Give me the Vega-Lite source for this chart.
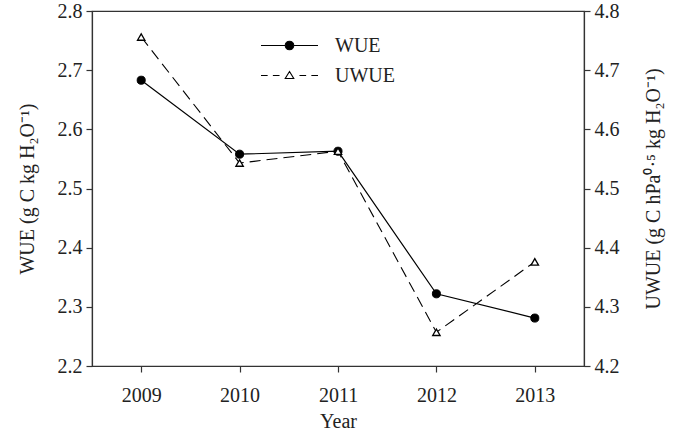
{
  "$schema": "https://vega.github.io/schema/vega-lite/v6.json",
  "width": 492,
  "height": 355,
  "autosize": "none",
  "padding": {"left": 92, "top": 11, "right": 91, "bottom": 81},
  "background": "white",
  "config": {
    "font": "Liberation Serif",
    "view": {"stroke": "#333", "strokeWidth": 1.2},
    "axis": {
      "labelFont": "Liberation Serif",
      "titleFont": "Liberation Serif",
      "labelFontSize": 20,
      "titleFontSize": 20,
      "titleFontWeight": "normal",
      "labelColor": "#222",
      "titleColor": "#222",
      "domainColor": "#333",
      "domainWidth": 1.2,
      "tickColor": "#333",
      "tickWidth": 1.2,
      "tickSize": 6,
      "grid": false,
      "labelPadding": 4
    }
  },
  "data": {
    "values": [
      {"year": 2009, "series": "WUE", "value": 2.683},
      {"year": 2010, "series": "WUE", "value": 2.558},
      {"year": 2011, "series": "WUE", "value": 2.563},
      {"year": 2012, "series": "WUE", "value": 2.322},
      {"year": 2013, "series": "WUE", "value": 2.281},
      {"year": 2009, "series": "UWUE", "value": 4.756},
      {"year": 2010, "series": "UWUE", "value": 4.543},
      {"year": 2011, "series": "UWUE", "value": 4.563},
      {"year": 2012, "series": "UWUE", "value": 4.257},
      {"year": 2013, "series": "UWUE", "value": 4.376}
    ]
  },
  "encoding": {
    "x": {
      "field": "year",
      "type": "quantitative",
      "scale": {"domain": [2008.5, 2013.5], "nice": false, "zero": false},
      "axis": {"values": [2009, 2010, 2011, 2012, 2013], "format": "d", "title": "Year", "labelPadding": 13, "titlePadding": 6}
    }
  },
  "layer": [
    {
      "transform": [{"filter": "datum.series === 'WUE'"}],
      "encoding": {
        "y": {
          "field": "value",
          "type": "quantitative",
          "scale": {"domain": [2.2, 2.8], "nice": false, "zero": false},
          "axis": {"orient": "left", "title": "WUE (g C kg H₂O⁻¹)", "values": [2.2, 2.3, 2.4, 2.5, 2.6, 2.7, 2.8], "format": ".1f", "titlePadding": 20}
        }
      },
      "layer": [
        {"mark": {"type": "line", "color": "black", "strokeWidth": 1.2}},
        {"mark": {"type": "point", "shape": "circle", "filled": true, "fill": "black", "stroke": "black", "strokeWidth": 1, "size": 65, "opacity": 1}},
        {
          "mark": {"type": "point", "filled": true, "strokeWidth": 1.1, "size": 0, "opacity": 1},
          "encoding": {
            "shape": {
              "field": "series",
              "type": "nominal",
              "scale": {"domain": ["WUE", "UWUE"], "range": ["M-3,0L-0.45,0M0.45,0L3,0M-0.45,0A0.45,0.45,0,1,1,0.45,0A0.45,0.45,0,1,1,-0.45,0Z", "M-3,0L-2.3,0M-1.75,0L-1.05,0M1.05,0L1.75,0M2.3,0L3,0M0,-0.42L0.45,0.32L-0.45,0.32Z"]},
              "legend": {
                "orient": "none",
                "legendX": 187,
                "legendY": 24,
                "title": null,
                "padding": 0,
                "labelFont": "Liberation Serif",
                "labelFontSize": 20,
                "labelColor": "#222",
                "labelOffset": 35,
                "symbolSize": 361,
                "symbolStrokeWidth": 1.1,
                "symbolOpacity": 1,
                "rowPadding": 9
              }
            },
            "fill": {
              "field": "series",
              "type": "nominal",
              "scale": {"domain": ["WUE", "UWUE"], "range": ["black", "white"]},
              "legend": {
                "orient": "none",
                "legendX": 187,
                "legendY": 24,
                "title": null,
                "padding": 0,
                "labelFont": "Liberation Serif",
                "labelFontSize": 20,
                "labelColor": "#222",
                "labelOffset": 35,
                "symbolSize": 361,
                "symbolStrokeWidth": 1.1,
                "symbolOpacity": 1,
                "rowPadding": 9
              }
            },
            "stroke": {
              "field": "series",
              "type": "nominal",
              "scale": {"domain": ["WUE", "UWUE"], "range": ["black", "black"]},
              "legend": {
                "orient": "none",
                "legendX": 187,
                "legendY": 24,
                "title": null,
                "padding": 0,
                "labelFont": "Liberation Serif",
                "labelFontSize": 20,
                "labelColor": "#222",
                "labelOffset": 35,
                "symbolSize": 361,
                "symbolStrokeWidth": 1.1,
                "symbolOpacity": 1,
                "rowPadding": 9
              }
            }
          }
        }
      ]
    },
    {
      "transform": [{"filter": "datum.series === 'UWUE'"}],
      "encoding": {
        "y": {
          "field": "value",
          "type": "quantitative",
          "scale": {"domain": [4.2, 4.8], "nice": false, "zero": false},
          "axis": {"orient": "right", "title": "UWUE (g C hPa⁰·⁵ kg H₂O⁻¹)", "values": [4.2, 4.3, 4.4, 4.5, 4.6, 4.7, 4.8], "format": ".1f", "titleAngle": 270, "titlePadding": 44}
        }
      },
      "layer": [
        {"mark": {"type": "line", "color": "black", "strokeWidth": 1.1, "strokeDash": [11, 6]}},
        {"mark": {"type": "point", "shape": "triangle-up", "filled": false, "fill": "white", "stroke": "black", "strokeWidth": 1.3, "size": 55, "opacity": 1}}
      ]
    }
  ],
  "resolve": {"scale": {"y": "independent"}}
}
